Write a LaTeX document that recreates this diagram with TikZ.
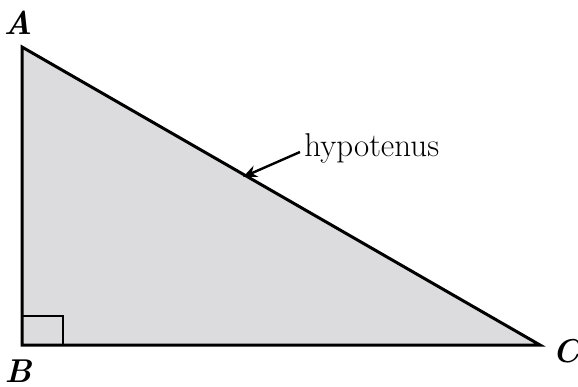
\documentclass[tikz,border=0pt]{standalone}
\usepackage{tikz}
\usetikzlibrary{arrows.meta}
\definecolor{TriFill}{HTML}{DCDCDE}
\tikzset{
vertexlabel/.style={font=\fontsize{16.5}{19}\selectfont\bfseries\itshape, inner sep=0pt},
sidelabel/.style={font=\fontsize{16.5}{19}\selectfont, inner sep=0pt, anchor=west},
sidearrow/.style={-{Stealth[length=7pt, width=6pt]}, line width=1.2pt},
triedge/.style={line width=1.5pt, line join=miter}
}
\begin{document}
\begin{tikzpicture}[x=0.5pt, y=-0.5pt]
\useasboundingbox (0,0) rectangle (578,386);
% corners
\coordinate (a) at (22,47);
\coordinate (b) at (22,345);
\coordinate (c) at (540,345);
\coordinate (tip) at (243,177);

\filldraw[triedge, fill=TriFill] (a) -- (b) -- (c) -- cycle;
\draw[line width=1.2pt] (22,316) -| (63,345);

\node[vertexlabel] (la) at (18,23) {A};
\node[vertexlabel] (lb) at (18,371) {B};
\node[vertexlabel] (lc) at (566,351) {C};

\node[sidelabel] (hyp) at (304,148) {hypotenus};
\draw[sidearrow] (hyp.west) ++(-4,4) coordinate (tail) -- (tip);
\end{tikzpicture}
\end{document}
